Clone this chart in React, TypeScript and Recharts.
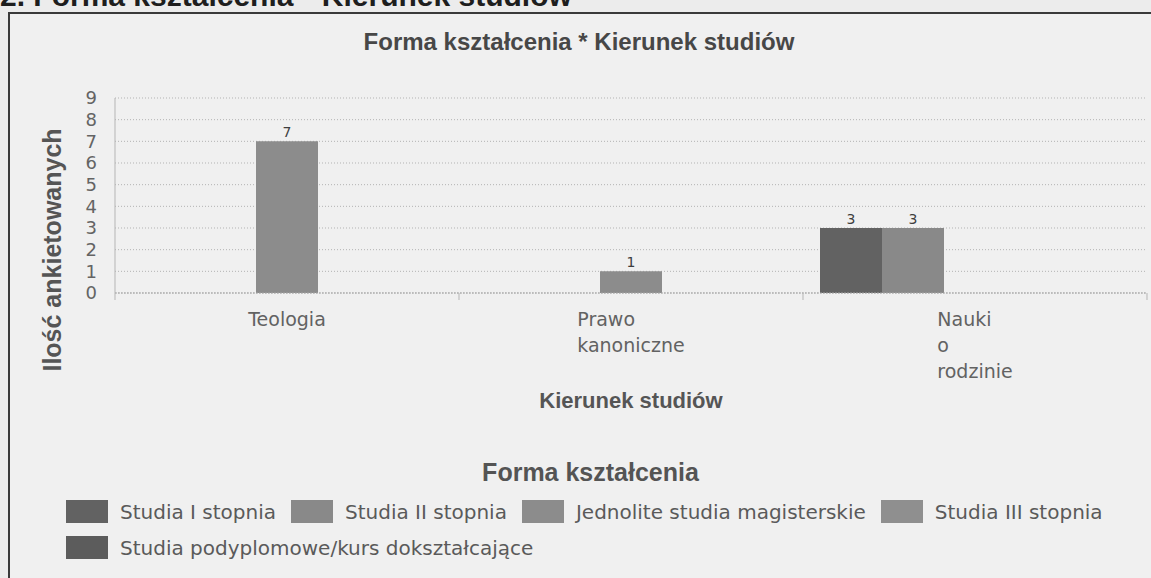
import React from "react";
import { BarChart, Bar, XAxis, YAxis, CartesianGrid, LabelList, Label, Legend } from "recharts";

const CATEGORIES = ["Teologia", "Prawo kanoniczne", "Nauki o rodzinie"];
const SERIES_NAMES = [
  "Studia I stopnia",
  "Studia II stopnia",
  "Jednolite studia magisterskie",
  "Studia III stopnia",
  "Studia podyplomowe/kurs dokształcające",
];
const STUDIA_I = [0, 0, 3];
const STUDIA_II = [0, 0, 3];
const JEDNOLITE = [7, 1, 0];
const STUDIA_III = [0, 0, 0];
const PODYPLOMOWE = [0, 0, 0];
const Y_TICKS = [0, 1, 2, 3, 4, 5, 6, 7, 8, 9];

const COLORS = ["#626262", "#898989", "#8c8c8c", "#8f8f8f", "#5c5c5c"];
const VALUES = [STUDIA_I, STUDIA_II, JEDNOLITE, STUDIA_III, PODYPLOMOWE];
const KEYS = ["s1", "s2", "jm", "s3", "pd"];

const data = CATEGORIES.map((name, i) => {
  const row: any = { name };
  KEYS.forEach((k, j) => (row[k] = VALUES[j][i]));
  return row;
});

const SANS = "'DejaVu Sans', sans-serif";
const BOLD = "'Liberation Sans', Arial, sans-serif";

let measureCtx: CanvasRenderingContext2D | null = null;
function textWidth(s: string, font: string) {
  if (!measureCtx) measureCtx = document.createElement("canvas").getContext("2d");
  if (!measureCtx) return s.length * 10;
  measureCtx.font = font;
  return measureCtx.measureText(s).width;
}

// category label, one word per line, block centred under the band
const CategoryTick = (props: any) => {
  const { x, y, payload, index } = props;
  const lines = String(payload.value).split(" ");
  const w = Math.max(...lines.map((l) => textWidth(l, `19px ${SANS}`)));
  const half = payload.offset || 0;
  const left = x - w / 2;
  return (
    <g>
      <line x1={x - half} y1={y} x2={x - half} y2={y + 7} stroke="#b5b5b5" />
      {index === CATEGORIES.length - 1 && (
        <line x1={x + half} y1={y} x2={x + half} y2={y + 7} stroke="#b5b5b5" />
      )}
      <text x={left} y={y + 33} fontSize={19} fill="#626262" fontFamily={SANS}>
        {lines.map((l, i) => (
          <tspan key={i} x={left} dy={i === 0 ? 0 : 26}>
            {l}
          </tspan>
        ))}
      </text>
    </g>
  );
};

const LegendBox = () => (
  <div style={{ width: 1151, fontFamily: SANS }}>
    <div
      style={{
        textAlign: "center",
        paddingLeft: 30,
        fontFamily: BOLD,
        fontWeight: "bold",
        fontSize: 25,
        color: "#545454",
        height: 34,
        lineHeight: "34px",
      }}
    >
      Forma kształcenia
    </div>
    <div style={{ display: "flex", flexWrap: "wrap", paddingLeft: 66, width: 1075, marginTop: 11, rowGap: 13 }}>
      {SERIES_NAMES.map((name, i) => (
        <div key={name} style={{ display: "flex", alignItems: "center", marginRight: 15, height: 23 }}>
          <span style={{ width: 42, height: 23, background: COLORS[i], display: "inline-block", marginRight: 12 }} />
          <span style={{ fontSize: 20, color: "#5a5a5a", whiteSpace: "nowrap" }}>{name}</span>
        </div>
      ))}
    </div>
  </div>
);

export default function App() {
  return (
    <div
      style={{
        position: "absolute",
        left: 0,
        top: 0,
        width: 1151,
        height: 578,
        overflow: "hidden",
        background: "#ececec",
      }}
    >
      <div
        style={{
          position: "absolute",
          left: 0,
          top: -21,
          fontFamily: BOLD,
          fontWeight: "bold",
          fontSize: 30,
          color: "#1e1e1e",
          whiteSpace: "nowrap",
        }}
      >
        2. Forma kształcenia * Kierunek studiów
      </div>
      <div
        style={{
          position: "absolute",
          left: 8,
          top: 12,
          width: 1300,
          height: 700,
          border: "2px solid #3a3a3a",
          background: "#f0f0f0",
        }}
      />
      <div style={{ position: "absolute", left: 0, top: 0 }}>
        <BarChart
          width={1151}
          height={578}
          data={data}
          margin={{ top: 98, right: 4, bottom: 255, left: 55 }}
          barCategoryGap={17}
          barGap={0}
        >
          <CartesianGrid vertical={false} stroke="#b3b3b3" strokeDasharray="1 2" />
          <XAxis
            dataKey="name"
            height={30}
            tickLine={false}
            tickSize={0}
            tickMargin={0}
            interval={0}
            axisLine={{ stroke: "#a5a5a5", strokeDasharray: "2 1" }}
            tick={<CategoryTick />}
          >
            <Label
              content={() => (
                <text x={631} y={408} textAnchor="middle" fontFamily={BOLD} fontWeight="bold" fontSize={22} fill="#555">
                  Kierunek studiów
                </text>
              )}
            />
          </XAxis>
          <YAxis
            width={60}
            domain={[0, 9]}
            ticks={Y_TICKS}
            interval={0}
            tickLine={false}
            tickSize={0}
            tickMargin={18}
            axisLine={{ stroke: "#b5b5b5" }}
            tick={{ fontSize: 18, fill: "#646464", fontFamily: SANS }}
          >
            <Label
              content={() => (
                <text
                  x={52}
                  y={250}
                  transform="rotate(-90 52 250)"
                  textAnchor="middle"
                  dominantBaseline="central"
                  fontFamily={BOLD}
                  fontWeight="bold"
                  fontSize={25}
                  fill="#555"
                >
                  Ilość ankietowanych
                </text>
              )}
            />
          </YAxis>
          <YAxis
            yAxisId="r"
            orientation="right"
            width={0}
            tick={false}
            tickLine={false}
            axisLine={{ stroke: "#b5b5b5", strokeDasharray: "1 2" }}
          />
          <Legend
            layout="horizontal"
            verticalAlign="middle"
            align="center"
            wrapperStyle={{ top: 455, left: 0, width: 1151 }}
            content={<LegendBox />}
          />
          {KEYS.map((k, i) => (
            <Bar key={k} dataKey={k} name={SERIES_NAMES[i]} fill={COLORS[i]} isAnimationActive={false}>
              <LabelList
                dataKey={k}
                position="top"
                offset={4}
                fontSize={14}
                fill="#3e3e3e"
                fontFamily={SANS}
                formatter={(v: any) => (v ? v : "")}
              />
            </Bar>
          ))}
          <Label
            content={() => (
              <text x={579} y={50} textAnchor="middle" fontFamily={BOLD} fontWeight="bold" fontSize={24} fill="#474747">
                Forma kształcenia * Kierunek studiów
              </text>
            )}
          />
        </BarChart>
      </div>
    </div>
  );
}
